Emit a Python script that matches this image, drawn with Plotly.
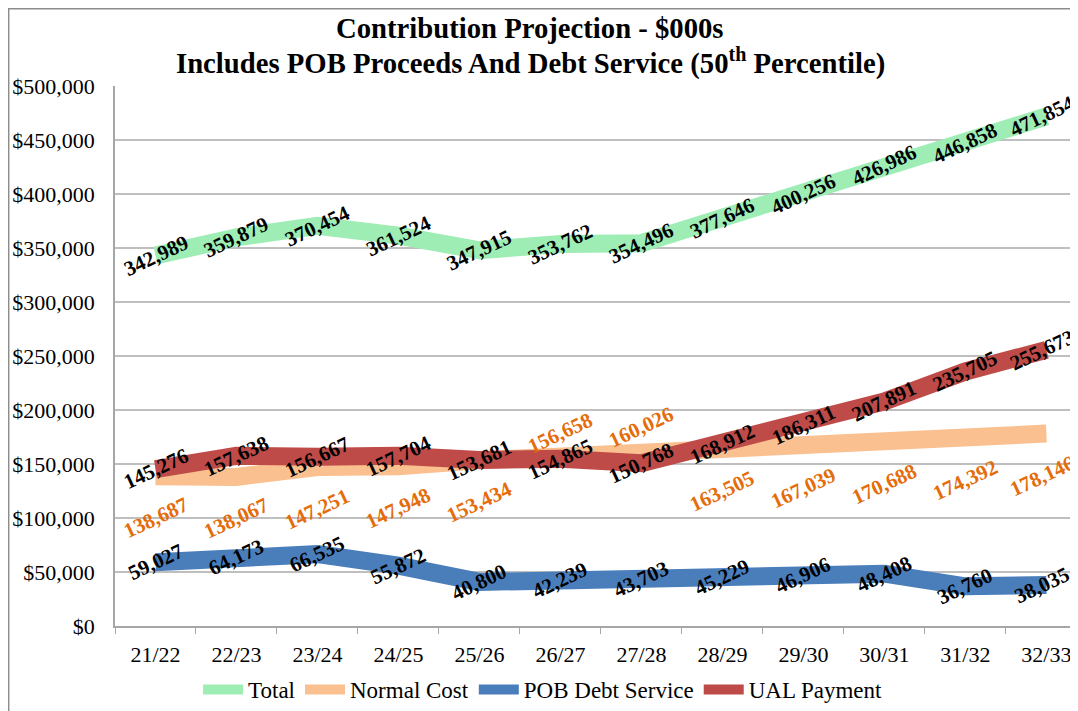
import plotly.graph_objects as go

categories = ["21/22", "22/23", "23/24", "24/25", "25/26", "26/27",
              "27/28", "28/29", "29/30", "30/31", "31/32", "32/33"]
total = [342989, 359879, 370454, 361524, 347915, 353762,
         354496, 377646, 400256, 426986, 446858, 471854]
normal_cost = [138687, 138067, 147251, 147948, 153434, 156658,
               160026, 163505, 167039, 170688, 174392, 178146]
pob_debt = [59027, 64173, 66535, 55872, 40800, 42239,
            43703, 45229, 46906, 48408, 36760, 38035]
ual_payment = [145276, 157638, 156667, 157704, 153681, 154865,
               150768, 168912, 186311, 207891, 235705, 255673]
y_ticks = [0, 50000, 100000, 150000, 200000, 250000, 300000, 350000, 400000, 450000, 500000]
y_tick_labels = ["$0", "$50,000", "$100,000", "$150,000", "$200,000", "$250,000",
                 "$300,000", "$350,000", "$400,000", "$450,000", "$500,000"]

# style (label offsets in pixels for the Normal Cost labels)
nc_label_shift = [-42, -41, -42, -42, -42, 24, 26, -42, -42, -42, -42, -42]
SERIF = "Liberation Serif, Times New Roman, serif"

series = [
    ("Total", total, "#9DEDB5", "black", None),
    ("Normal Cost", normal_cost, "#FAC090", "#E46C0A", nc_label_shift),
    ("POB Debt Service", pob_debt, "#4A7EBB", "black", None),
    ("UAL Payment", ual_payment, "#BE4B48", "black", None),
]

fig = go.Figure()
annotations = []
for name, vals, col, lcol, shifts in series:
    fig.add_trace(go.Scatter(
        x=categories, y=vals, name=name, mode="lines",
        line=dict(color=col, width=18, shape="linear"),
        hoverinfo="skip",
    ))
for name, vals, col, lcol, shifts in series:
    for i, (c, v) in enumerate(zip(categories, vals)):
        annotations.append(dict(
            x=c, y=v, xref="x", yref="y", text=f"<b>{v:,}</b>", showarrow=False,
            textangle=-25, yshift=(shifts[i] if shifts else 0),
            xshift=(-4 if i == len(vals) - 1 else 0),
            font=dict(family=SERIF, size=21, color=lcol),
        ))

annotations.append(dict(
    x=0.431, y=1.108, xref="paper", yref="paper", showarrow=False,
    text="<b>Contribution Projection - $000s</b>",
    font=dict(family=SERIF, size=28.7, color="black"), xanchor="center", yanchor="middle"))
annotations.append(dict(
    x=0.431, y=1.046, xref="paper", yref="paper", showarrow=False,
    text="<b>Includes POB Proceeds And Debt Service (50<sup>th</sup> Percentile)</b>",
    font=dict(family=SERIF, size=28.7, color="black"), xanchor="center", yanchor="middle"))

# page body has an 8px margin, so the figure is shifted by (8, 8)
fig.update_layout(
    width=1070, height=703, autosize=False,
    margin=dict(l=107, r=0, t=78, b=85),
    paper_bgcolor="white", plot_bgcolor="white",
    font=dict(family=SERIF, size=22, color="black"),
    annotations=annotations,
    showlegend=True,
    legend=dict(orientation="h", x=0.444, xanchor="center", y=-0.1185, yanchor="middle",
                font=dict(family=SERIF, size=23, color="black"),
                itemwidth=40, traceorder="normal", bgcolor="rgba(0,0,0,0)"),
    shapes=[dict(type="rect", xref="paper", yref="paper",
                 x0=-0.1104, x1=1.2, y0=-0.4, y1=1.1430,
                 line=dict(color="#8C8C8C", width=1.5), layer="below")],
)
fig.update_xaxes(
    type="category", categoryorder="array", categoryarray=categories,
    range=[-0.5, 11.39], tickson="boundaries", ticks="outside", ticklen=6,
    tickcolor="#A6A6A6", showline=True, linecolor="#A6A6A6", linewidth=1.5,
    showgrid=False, tickfont=dict(family=SERIF, size=22, color="black"),
    ticklabelstandoff=8, fixedrange=True,
)
fig.update_yaxes(
    range=[0, 500000], tickmode="array", tickvals=y_ticks, ticktext=y_tick_labels,
    showgrid=True, gridcolor="#BFBFBF", gridwidth=1.5,
    showline=True, linecolor="#A6A6A6", linewidth=1.5, zeroline=False,
    tickfont=dict(family=SERIF, size=22, color="black"),
    ticks="", ticklabelstandoff=14, fixedrange=True,
)

fig.write_html("out.html")
